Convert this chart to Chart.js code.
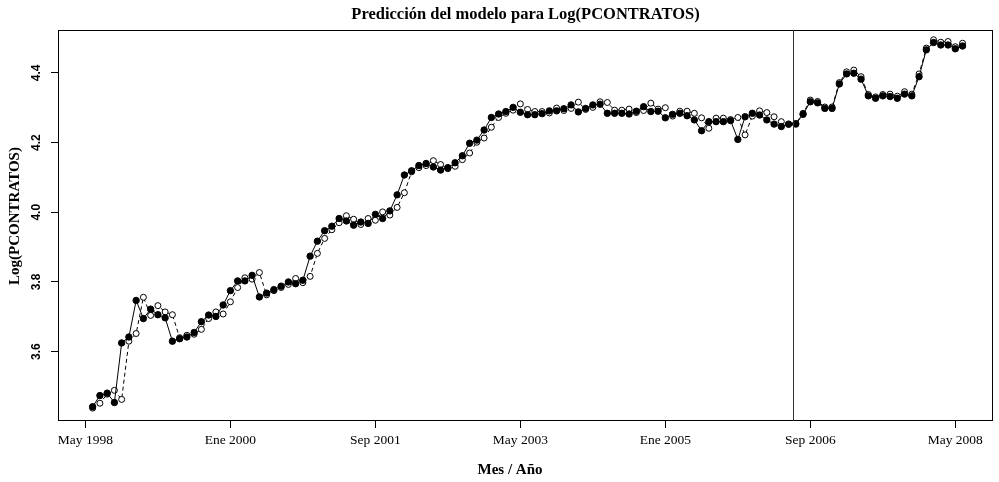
<!DOCTYPE html>
<html><head><meta charset="utf-8">
<script src="https://cdn.jsdelivr.net/npm/chart.js@4/dist/chart.umd.min.js"></script>
<style>html,body{margin:0;padding:0;background:#fff}#wrap{width:999px;height:482px}</style>
</head><body><div id="wrap"><canvas id="c" width="999" height="482"></canvas></div>
<script>
// Observed Log(PCONTRATOS), monthly Jun 1998 .. Jun 2008
const observed = [
3.442,3.474,3.481,3.454,3.625,3.642,3.747,3.695,3.722,3.706,
3.697,3.630,3.637,3.642,3.655,3.686,3.705,3.701,3.734,3.775,
3.803,3.803,3.819,3.757,3.768,3.778,3.788,3.800,3.795,3.805,
3.874,3.917,3.947,3.960,3.982,3.975,3.963,3.972,3.968,3.994,
3.982,4.004,4.050,4.107,4.119,4.134,4.140,4.130,4.121,4.128,
4.142,4.162,4.198,4.207,4.236,4.272,4.282,4.289,4.301,4.287,
4.280,4.280,4.283,4.291,4.291,4.297,4.308,4.288,4.298,4.308,
4.310,4.284,4.284,4.284,4.282,4.290,4.303,4.289,4.290,4.271,
4.281,4.284,4.277,4.265,4.234,4.260,4.260,4.260,4.263,4.209,
4.274,4.284,4.279,4.265,4.253,4.246,4.253,4.253,4.281,4.317,
4.314,4.298,4.298,4.368,4.397,4.399,4.382,4.334,4.327,4.334,
4.332,4.327,4.339,4.334,4.389,4.466,4.487,4.480,4.480,4.469,
4.477];
// Model prediction
const predicted = [
3.438,3.452,3.478,3.489,3.463,3.630,3.652,3.756,3.704,3.732,
3.714,3.706,3.640,3.647,3.650,3.664,3.695,3.714,3.708,3.743,
3.784,3.812,3.808,3.827,3.763,3.775,3.784,3.793,3.810,3.798,
3.816,3.882,3.925,3.950,3.970,3.990,3.980,3.965,3.982,3.977,
4.001,3.992,4.014,4.056,4.116,4.128,4.134,4.148,4.137,4.125,
4.132,4.151,4.170,4.201,4.213,4.244,4.272,4.284,4.293,4.311,
4.295,4.289,4.289,4.285,4.299,4.292,4.298,4.316,4.295,4.301,
4.317,4.315,4.293,4.293,4.296,4.286,4.292,4.313,4.296,4.300,
4.276,4.290,4.290,4.284,4.271,4.241,4.270,4.270,4.266,4.272,
4.222,4.276,4.291,4.286,4.274,4.260,4.252,4.255,4.284,4.322,
4.318,4.302,4.302,4.372,4.403,4.408,4.389,4.338,4.331,4.338,
4.339,4.333,4.346,4.339,4.397,4.471,4.495,4.488,4.490,4.475,
4.485];
const firstMonth = 1; // months after May 1998 of the first observation
const xTickValues = [0,20,40,60,80,100,120];
const xTickLabels = ['May 1998','Ene 2000','Sep 2001','May 2003','Ene 2005','Sep 2006','May 2008'];
const yTickValues = [3.6,3.8,4.0,4.2,4.4];
const yTickLabels = ['3.6','3.8','4.0','4.2','4.4'];
const cutMonth = 97.6; // vertical reference line
const titleText = 'Predicción del modelo para Log(PCONTRATOS)';
const xTitle = 'Mes / Año';
const yTitle = 'Log(PCONTRATOS)';

const toPts = arr => arr.map((v, i) => ({x: firstMonth + i, y: v}));
const serif = '"Liberation Serif", "Times New Roman", serif';

const framePlugin = {
  id: 'frame',
  afterDatasetsDraw(chart) {
    const {ctx, chartArea: a, scales} = chart;
    ctx.save();
    ctx.strokeStyle = '#000';
    ctx.lineWidth = 1;
    ctx.strokeRect(Math.round(a.left) + 0.5, Math.round(a.top) + 0.5,
      Math.round(a.right - a.left) - 1, Math.round(a.bottom - a.top) - 1);
    const vx = Math.round(scales.x.getPixelForValue(cutMonth)) + 0.5;
    ctx.strokeStyle = '#333';
    ctx.beginPath(); ctx.moveTo(vx, a.top); ctx.lineTo(vx, a.bottom); ctx.stroke();
    ctx.fillStyle = '#000';
    ctx.font = 'bold 12px "Liberation Sans", Arial, sans-serif';
    ctx.textAlign = 'center';
    ctx.textBaseline = 'middle';
    yTickValues.forEach((v, i) => {
      const py = scales.y.getPixelForValue(v);
      ctx.save();
      ctx.translate(37, py);
      ctx.rotate(-Math.PI / 2);
      ctx.fillText(yTickLabels[i], 0, 0);
      ctx.restore();
    });
    // axis titles
    ctx.font = 'bold 15px ' + serif;
    ctx.fillText(xTitle, 510, 470);
    ctx.save();
    ctx.translate(15, 216);
    ctx.rotate(-Math.PI / 2);
    ctx.fillText(yTitle, 0, 0);
    ctx.restore();
    ctx.restore();
  }
};

new Chart(document.getElementById('c'), {
  type: 'line',
  data: {
    datasets: [
      {
        label: 'Observado',
        data: toPts(observed),
        borderColor: '#000', borderWidth: 1,
        pointRadius: 3.2, pointBorderWidth: 1,
        pointBackgroundColor: '#000', pointBorderColor: '#000',
        tension: 0, order: 0
      },
      {
        label: 'Predicción',
        data: toPts(predicted),
        borderColor: '#000', borderWidth: 1, borderDash: [4, 3],
        pointRadius: 3, pointBorderWidth: 1,
        pointBackgroundColor: '#fff', pointBorderColor: '#000',
        tension: 0, order: 1
      }
    ]
  },
  options: {
    responsive: false,
    animation: false,
    devicePixelRatio: 1,
    layout: {padding: {top: 0, right: 6, left: 0, bottom: 0}},
    plugins: {
      legend: {display: false},
      tooltip: {enabled: false},
      title: {
        display: true, text: titleText, color: '#000', fullSize: false,
        font: {family: serif, size: 16.5, weight: 'bold', lineHeight: 1.2},
        padding: {top: 5, bottom: 5.2}
      }
    },
    scales: {
      x: {
        type: 'linear', min: -3.78, max: 125.2,
        afterBuildTicks: s => { s.ticks = xTickValues.map(v => ({value: v})); },
        afterFit: s => { s.height = 61; },
        grid: {drawOnChartArea: false, drawTicks: true, tickLength: 7, color: '#000'},
        border: {display: false},
        ticks: {
          autoSkip: false, maxRotation: 0, minRotation: 0, padding: 4, color: '#000',
          font: {family: serif, size: 13.5},
          callback: v => { const k = xTickValues.indexOf(v); return k >= 0 ? xTickLabels[k] : ''; }
        },
        title: {display: false}
      },
      y: {
        type: 'linear', min: 3.401, max: 4.523,
        afterBuildTicks: s => { s.ticks = yTickValues.map(v => ({value: v})); },
        afterFit: s => { s.width = 58; },
        grid: {drawOnChartArea: false, drawTicks: true, tickLength: 7, color: '#000'},
        border: {display: false},
        ticks: {display: false},
        title: {display: false}
      }
    }
  },
  plugins: [framePlugin]
});
</script></body></html>
